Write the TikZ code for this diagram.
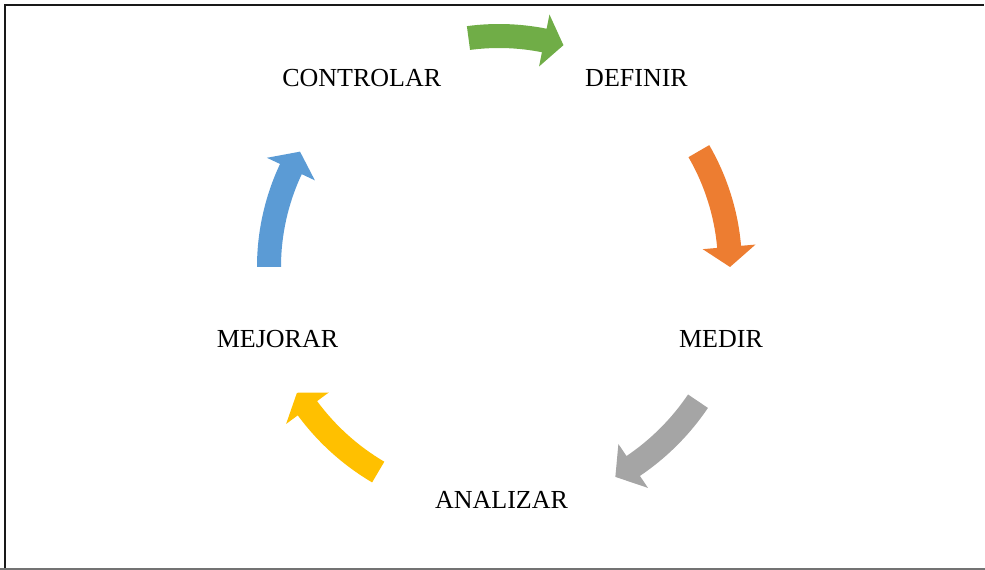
\documentclass[tikz,border=0pt]{standalone}
\usepackage{fontspec}
\setmainfont{Liberation Serif}
\definecolor{stepgreen}{HTML}{70AD47}
\definecolor{steporange}{HTML}{ED7D31}
\definecolor{stepgray}{HTML}{A5A5A5}
\definecolor{stepyellow}{HTML}{FFC000}
\definecolor{stepblue}{HTML}{5B9BD5}
\tikzset{
  phase/.style={font=\fontsize{26}{30}\selectfont, anchor=base, inner sep=0pt},
  frameline/.style={line width=2pt, draw=black!90},
}
% curved block arrow around the cycle centre:
% #1 colour, #2 centre-line radius, #3 tail angle, #4 head-base angle, #5 tip angle
\newcommand{\cyclearrow}[5]{%
  \fill[#1] ({#3}:{#2+12}) arc[start angle={#3}, end angle={#4}, radius={#2+12}]
    -- ({#4}:{#2+26.5}) -- ({#5}:{#2}) -- ({#4}:{#2-26.5})
    -- ({#4}:{#2-12}) arc[start angle={#4}, end angle={#3}, radius={#2-12}] -- cycle;
}
\begin{document}
\begin{tikzpicture}[x=1pt, y=1pt]
  \useasboundingbox (0,0) rectangle (985,570);
  % outer frame
  \draw[frameline] (4.7,0) -- (4.7,565.3) -- (984,565.3);
  \draw[line width=1.2pt, draw=black!55] (0,1) -- (985,1);

  % phase labels
  \node[phase] (definir)   at (636.5,483.3) {DEFINIR};
  \node[phase] (medir)     at (721,222.4)   {MEDIR};
  \node[phase] (analizar)  at (501.5,61.3)  {ANALIZAR};
  \node[phase] (mejorar)   at (277.5,222.4) {MEJORAR};
  \node[phase] (controlar) at (361.7,483.3) {CONTROLAR};

  % cycle arrows
  \begin{scope}[shift={(499,303)}]
    \cyclearrow{stepgreen}{231}{97.6}{78.7}{73.8}
    \cyclearrow{steporange}{231}{30.1}{5.0}{0}
    \cyclearrow{stepgray}{240}{-34}{-56}{-61}
    \cyclearrow{stepyellow}{238}{-120.5}{-143.6}{-148.1}
    \cyclearrow{stepblue}{230}{180}{154.8}{149.9}
  \end{scope}
\end{tikzpicture}
\end{document}
